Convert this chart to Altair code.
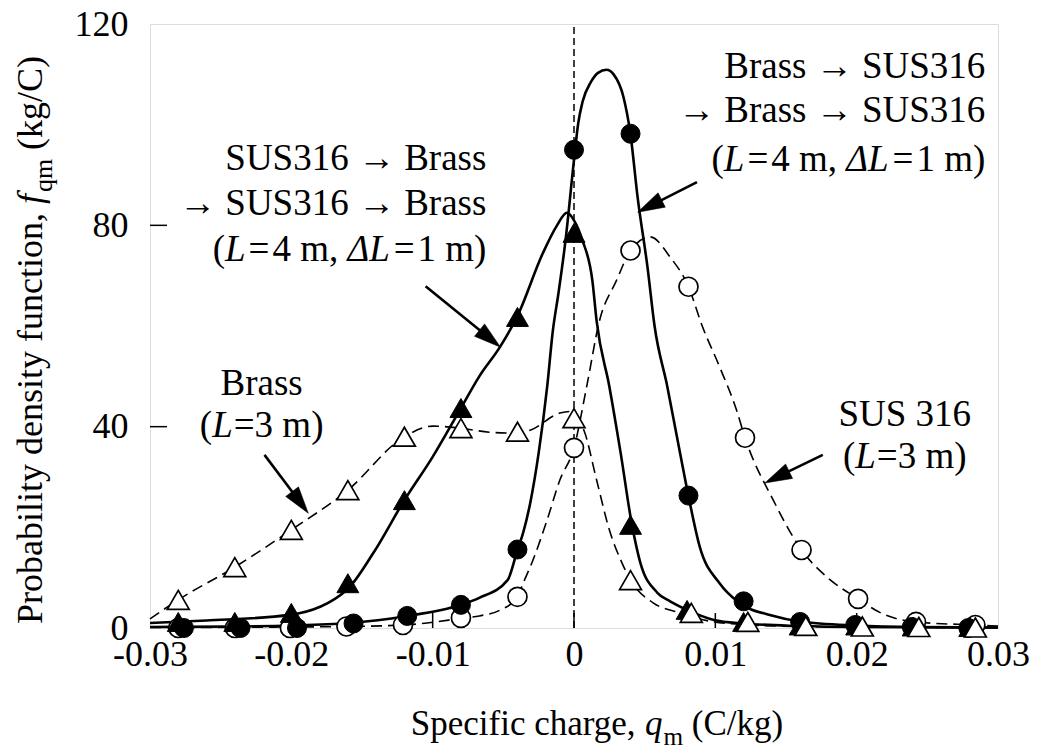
import math
import altair as alt
import pandas as pd

# ---------------- data ----------------
# Markers: Brass -> SUS316 -> Brass -> SUS316 (filled circles)
bs_mx = [-0.0276, -0.0236, -0.0196, -0.0156, -0.0118, -0.0080, -0.0040, 0.0000, 0.0040, 0.0081, 0.0120, 0.0160, 0.0199, 0.0239, 0.0279]
bs_my = [0.0, 0.0, 0.0, 0.9, 2.4, 4.6, 15.6, 95.0, 98.2, 26.3, 5.3, 1.2, 0.6, 0.2, 0.0]
# SUS 316 (L=3 m) (open circles)
s3_mx = [-0.0280, -0.0240, -0.0201, -0.0161, -0.0121, -0.0080, -0.0040, 0.0000, 0.0040, 0.0081, 0.0121, 0.0161, 0.0201, 0.0242, 0.0284]
s3_my = [0.0, 0.0, 0.0, 0.3, 0.6, 2.0, 6.2, 35.8, 75.0, 67.8, 37.8, 15.5, 5.8, 1.2, 0.6]
# Brass (L=3 m) (open triangles)
b3_mx = [-0.0280, -0.0240, -0.0200, -0.0160, -0.0120, -0.0080, -0.0040, 0.0000, 0.0040, 0.0083, 0.0123, 0.0164, 0.0204, 0.0244, 0.0284]
b3_my = [5.6, 12.1, 19.5, 27.4, 38.0, 39.7, 39.0, 41.7, 9.5, 3.0, 1.2, 0.4, 0.3, 0.2, 0.1]
# SUS316 -> Brass -> SUS316 -> Brass (filled triangles)
sb_mx = [-0.0280, -0.0240, -0.0200, -0.0160, -0.0120, -0.0080, -0.0040, 0.0000, 0.0040, 0.0080, 0.0120, 0.0160, 0.0200, 0.0240, 0.0280]
sb_my = [1.2, 1.2, 3.0, 8.9, 25.4, 43.7, 61.8, 78.5, 20.5, 3.6, 1.2, 0.5, 0.5, 0.3, 0.2]

# Fitted curves
bs_cx = [-0.030, -0.024, -0.020, -0.016, -0.012, -0.008, -0.0067, -0.0047, -0.0040, -0.0036, -0.0031, -0.0025,
         -0.0019, -0.0015, -0.0011, -0.0006, 0.0000, 0.0003, 0.0006, 0.0012, 0.0017, 0.0023, 0.0028, 0.0035,
         0.0040, 0.0045, 0.0052, 0.0057, 0.0066, 0.0075, 0.0081, 0.0089, 0.0103, 0.0116, 0.0140, 0.0160,
         0.0200, 0.0240, 0.0300]
bs_cy = [0.2, 0.3, 0.5, 1.0, 2.3, 4.6, 6.0, 9.5, 15.5, 18.9, 24.8, 34.8,
         47.9, 59.0, 66.5, 77.0, 93.0, 100.3, 104.5, 108.5, 110.3, 110.9, 110.0, 105.5,
         98.0, 85.6, 71.7, 60.0, 48.0, 34.8, 26.2, 16.1, 8.9, 5.2, 2.5, 1.3,
         0.5, 0.2, 0.1]

sb_cx = [-0.030, -0.026, -0.0201, -0.0161, -0.0142, -0.0120, -0.0100, -0.0080, -0.0067, -0.0052, -0.0040,
         -0.0022, -0.0012, -0.0005, 0.0000, 0.0006, 0.0013, 0.0016, 0.0025, 0.0033, 0.0041, 0.0047, 0.0059,
         0.0068, 0.0080, 0.0099, 0.0120, 0.0160, 0.0200, 0.0300]
sb_cy = [1.0, 1.5, 2.6, 7.5, 14.9, 25.4, 34.0, 43.7, 50.0, 56.0, 62.0,
         74.5, 80.0, 82.5, 81.0, 77.0, 69.0, 61.0, 48.0, 34.8, 20.5, 12.9, 7.0,
         5.3, 3.6, 1.6, 0.9, 0.4, 0.2, 0.1]

b3_cx = [-0.030, -0.028, -0.024, -0.020, -0.016, -0.012, -0.010, -0.008, -0.006, -0.004, -0.0031, -0.0010,
         -0.0003, 0.0000, 0.0007, 0.0016, 0.0025, 0.0034, 0.0040, 0.0056, 0.0075, 0.0099, 0.0120, 0.0160,
         0.0200, 0.0300]
b3_cy = [1.8, 5.6, 12.1, 19.5, 27.4, 38.0, 40.1, 39.7, 38.9, 38.7, 39.3, 42.7,
         43.0, 42.0, 39.3, 29.4, 19.5, 12.9, 9.5, 5.0, 3.0, 1.2, 0.7, 0.3,
         0.2, 0.1]

s3_cx = [-0.030, -0.020, -0.016, -0.012, -0.008, -0.0067, -0.0052, -0.0040, -0.0036, -0.0029, -0.0019, -0.0010,
         0.0000, 0.0009, 0.0018, 0.0030, 0.0040, 0.0054, 0.0068, 0.0081, 0.0091, 0.0103, 0.0115, 0.0121,
         0.0141, 0.0161, 0.0179, 0.0201, 0.0217, 0.0242, 0.0284, 0.0300]
s3_cy = [0.1, 0.2, 0.3, 0.6, 1.9, 2.4, 3.6, 6.2, 8.9, 13.5, 21.5, 29.4,
         35.8, 48.0, 61.0, 69.0, 75.0, 77.7, 73.7, 67.8, 59.8, 51.9, 43.3, 37.8,
         25.4, 15.5, 10.1, 5.8, 3.0, 1.2, 0.6, 0.4]

# Annotation arrows (start -> tip, data units)
arrow_x0 = [-0.0105, 0.0087, -0.0219, 0.0176]
arrow_y0 = [67.9, 88.6, 34.4, 34.4]
arrow_x1 = [-0.0052, 0.0045, -0.0188, 0.0135]
arrow_y1 = [55.8, 82.6, 22.8, 28.8]

x_tick_values = [-0.03, -0.02, -0.01, 0, 0.01, 0.02, 0.03]
y_tick_values = [0, 40, 80, 120]
x_inner_ticks = [-0.02, -0.01, 0, 0.01, 0.02]
y_inner_ticks = [40, 80]

# ---------------- layout ----------------
W, H = 848, 604
XD = [-0.03, 0.03]
YD = [0, 120]
FONT = "'Liberation Serif', 'Times New Roman', Times, serif"


def px_x(v):
    return (v - XD[0]) / (XD[1] - XD[0]) * W


def px_y(v):
    return H - (v - YD[0]) / (YD[1] - YD[0]) * H


def dx_(p):
    return XD[0] + p / W * (XD[1] - XD[0])


def dy_(p):
    return YD[1] - p / H * (YD[1] - YD[0])


REG = {' ': 250, '(': 333, ')': 333, ',': 250, '.': 250, '/': 278, '=': 564, '-': 333,
       '→': 1000, 'Δ': 612, 'A': 722, 'B': 667, 'C': 667, 'L': 611, 'P': 556, 'S': 556, 'U': 722,
       'a': 444, 'b': 500, 'c': 444, 'd': 500, 'e': 444, 'f': 333, 'g': 500, 'h': 500, 'i': 278,
       'k': 500, 'l': 278, 'm': 778, 'n': 500, 'o': 500, 'p': 500, 'q': 500, 'r': 333, 's': 389,
       't': 278, 'u': 500, 'y': 500}
ITA = {'L': 556, 'Δ': 612, 'f': 278, 'q': 500, 'm': 722}


def tw(text, italic, fs):
    tab = ITA if italic else REG
    return sum(tab.get(c, REG.get(c, 500)) for c in text) / 1000.0 * fs


rows = []


def add_line(segs, ax, base, fs, align, angle=0):
    """segs: items (text, italic, scale, shift) or a number (gap px). ax/base in plot px."""
    total = 0.0
    for s in segs:
        total += s if isinstance(s, (int, float)) else tw(s[0], s[1], fs * s[2])
    if align == "right":
        start = -total
    elif align == "center":
        start = -total / 2
    else:
        start = 0.0
    cur = start
    for s in segs:
        if isinstance(s, (int, float)):
            cur += s
            continue
        text, it, sc, sh = s
        if angle == 0:
            px, py = ax + cur, base + sh * fs
        else:  # 270: text runs upward, baseline at x = base
            px, py = base + sh * fs, ax - cur
        rows.append(dict(x=dx_(px), y=dy_(py), t=text, fs=fs * sc, it=it, ang=angle))
        cur += tw(text, it, fs * sc)


def R(t):
    return (t, False, 1.0, 0.0)


def I(t):
    return (t, True, 1.0, 0.0)


AF = 37
SP = 0.25 * AF  # a word space, as a gap
# left block
lx = px_x(-0.0062)
add_line([R("SUS316 → Brass")], lx, px_y(91.0), AF, "right")
add_line([R("→ SUS316 → Brass")], lx, px_y(82.1), AF, "right")
add_line([R("("), I("L"), 3, R("="), 3, R("4 m,"), SP, I("ΔL"), 3, R("="), 3, R("1 m)")], lx, px_y(72.9), AF, "right")
# right block
rx = px_x(0.0291)
add_line([R("Brass → SUS316")], rx, px_y(109.2), AF, "right")
add_line([R("→ Brass → SUS316")], rx, px_y(100.5), AF, "right")
add_line([R("("), I("L"), 3, R("="), 3, R("4 m,"), SP, I("ΔL"), 3, R("="), 3, R("1 m)")], rx, px_y(90.7), AF, "right")
# Brass (L=3 m)
bx = px_x(-0.0221)
add_line([R("Brass")], bx, px_y(46.3), AF, "center")
add_line([R("("), I("L"), 1, R("=3 m)")], bx, px_y(38.0), AF, "center")
# SUS 316 (L=3 m)
sx = px_x(0.0234)
add_line([R("SUS 316")], sx, px_y(40.1), AF, "center")
add_line([R("("), I("L"), 1, R("=3 m)")], sx, px_y(31.8), AF, "center")
# axis titles
TF = 35
add_line([R("Specific charge,"), 0.25 * TF, I("q"), 1, ("m", False, 0.72, 0.28), 0.25 * TF, R("(C/kg)")],
         447, 711, TF, "center")
add_line([R("Probability density function,"), 0.25 * 36, I("f"), 2, ("qm", False, 0.72, 0.28), 0.25 * 36,
          R("(kg/C)")], 316, -108, 36, "center", angle=270)

text_df = pd.DataFrame(rows)

# arrows
ang, sx_end, sy_end = [], [], []
for x0, y0, x1, y1 in zip(arrow_x0, arrow_y0, arrow_x1, arrow_y1):
    ddx = px_x(x1) - px_x(x0)
    ddy = px_y(y1) - px_y(y0)
    ang.append(math.degrees(math.atan2(ddx, -ddy)) % 360)
    L = math.hypot(ddx, ddy)
    ex = px_x(x1) - ddx / L * 18
    ey = px_y(y1) - ddy / L * 18
    sx_end.append(dx_(ex))
    sy_end.append(dy_(ey))
arrow_df = pd.DataFrame(dict(x=arrow_x0, y=arrow_y0, x2=sx_end, y2=sy_end))
head_df = pd.DataFrame(dict(x=arrow_x1, y=arrow_y1, ang=ang))

# ---------------- chart ----------------
xs = alt.Scale(domain=XD, nice=False, zero=False)
ys = alt.Scale(domain=YD, nice=False, zero=False)
xax = alt.Axis(values=x_tick_values, labelExpr="datum.value + ''", title="", grid=False, domain=False,
               ticks=False, labelFont=FONT, labelFontSize=36, labelColor="black", labelPadding=9,
               labelFlush=False, labelOverlap=False)
yax = alt.Axis(values=y_tick_values, title="", grid=False, domain=False, ticks=False, labelFont=FONT,
               labelFontSize=36, labelColor="black", labelPadding=22, labelFlush=False, labelOverlap=False)


def X(f="x"):
    return alt.X(f"{f}:Q", scale=xs, axis=xax)


def Y(f="y"):
    return alt.Y(f"{f}:Q", scale=ys, axis=yax)


zero_df = pd.DataFrame(dict(x=[0.0], y=[0.0], y2=[120.0]))
zero_line = alt.Chart(zero_df).mark_rule(color="black", strokeWidth=1.5, strokeDash=[7, 4]).encode(
    x=X(), y=Y(), y2="y2:Q")

xt = alt.Chart(pd.DataFrame(dict(x=x_inner_ticks))).mark_rule(color="black", strokeWidth=1.5).encode(
    x=X(), y=alt.value(H), y2=alt.value(H - 15))
yt = alt.Chart(pd.DataFrame(dict(y=y_inner_ticks))).mark_rule(color="black", strokeWidth=1.5).encode(
    y=Y(), x=alt.value(0), x2=alt.value(17))


def curve(xv, yv, dashed):
    kw = dict(color="black", interpolate="monotone")
    if dashed:
        kw.update(strokeWidth=1.6, strokeDash=[11, 6])
    else:
        kw.update(strokeWidth=2.6)
    return alt.Chart(pd.DataFrame(dict(x=xv, y=yv))).mark_line(**kw).encode(x=X(), y=Y(), order="x:Q")


def markers(xv, yv, shape, filled, size):
    if filled:
        m = alt.Chart(pd.DataFrame(dict(x=xv, y=yv))).mark_point(
            shape=shape, filled=True, fill="black", stroke="black", strokeWidth=1, size=size, opacity=1)
    else:
        m = alt.Chart(pd.DataFrame(dict(x=xv, y=yv))).mark_point(
            shape=shape, filled=True, fill="white", stroke="black", strokeWidth=1.7, size=size, opacity=1)
    return m.encode(x=X(), y=Y())


shafts = alt.Chart(arrow_df).mark_rule(color="black", strokeWidth=2.6).encode(
    x=X(), y=Y(), x2="x2:Q", y2="y2:Q")
heads = alt.Chart(head_df).mark_point(
    shape="M0,0L-0.8,2.7L0.8,2.7Z", filled=True, fill="black", stroke="black", strokeWidth=0.5,
    size=400, opacity=1).encode(x=X(), y=Y(), angle=alt.Angle("ang:Q", scale=None))


def texts(italic, angle):
    d = text_df[(text_df.it == italic) & (text_df.ang == angle)]
    kw = dict(font=FONT, color="black", align="left", baseline="alphabetic")
    if italic:
        kw["fontStyle"] = "italic"
    if angle:
        kw["angle"] = angle
    return alt.Chart(d).mark_text(**kw).encode(
        x=X(), y=Y(), text="t:N", size=alt.Size("fs:Q", scale=None))


chart = alt.layer(
    zero_line, xt, yt,
    curve(s3_cx, s3_cy, True), curve(b3_cx, b3_cy, True),
    curve(bs_cx, bs_cy, False), curve(sb_cx, sb_cy, False),
    markers(s3_mx, s3_my, "circle", False, 361),
    markers(bs_mx, bs_my, "circle", True, 361),
    markers(sb_mx, sb_my, "triangle-up", True, 480),
    markers(b3_mx, b3_my, "triangle-up", False, 480),
    shafts, heads,
    texts(False, 0), texts(True, 0), texts(False, 270), texts(True, 270),
).properties(
    width=W, height=H,
    autosize=alt.AutoSizeParams(type="none"),
    padding={"left": 150, "top": 24, "right": 40, "bottom": 123},
).configure_view(stroke="black", strokeWidth=2).configure(background="white")

chart.save("out.html", embed_options={"renderer": "svg", "actions": False})
